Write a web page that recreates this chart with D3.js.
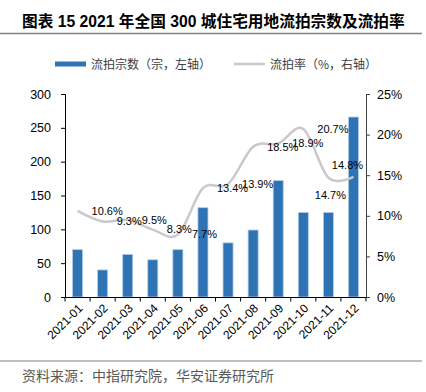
<!DOCTYPE html>
<html>
<head>
<meta charset="utf-8">
<script src="https://cdn.jsdelivr.net/npm/d3@7"></script>
<style>
  body { margin: 0; background: #fff; }
  svg { display: block; }
</style>
</head>
<body>
<svg id="chart"></svg>
<script>
// data
var months = ["2021-01", "2021-02", "2021-03", "2021-04", "2021-05", "2021-06",
              "2021-07", "2021-08", "2021-09", "2021-10", "2021-11", "2021-12"];
var counts = [70, 40, 63, 55, 70, 132, 80, 99, 172, 125, 125, 266];
var rates = [10.6, 9.3, 9.5, 8.3, 7.7, 13.4, 13.9, 18.5, 18.9, 20.7, 14.7, 14.8];
var leftTicks = [0, 50, 100, 150, 200, 250, 300];
var rightTicks = [0, 5, 10, 15, 20, 25];

var W = 426, H = 392;
// plot box (window.top is reserved, so prefixed names)
var pLeft = 65, pRight = 366, pTop = 94, pBottom = 297;
var numFont = "'Liberation Sans', Arial, sans-serif";
var cjkFont = "'Noto Sans CJK SC', sans-serif";

var svg = d3.select("#chart").attr("width", W).attr("height", H);

// title
svg.append("text")
  .attr("x", 22).attr("y", 27)
  .attr("font-family", numFont + ", " + cjkFont)
  .attr("font-weight", "bold")
  .attr("font-size", 15.7)
  .attr("fill", "#000")
  .text("图表 15 2021 年全国 300 城住宅用地流拍宗数及流拍率");

svg.append("line")
  .attr("x1", 0).attr("x2", 422).attr("y1", 33.5).attr("y2", 33.5)
  .attr("stroke", "#7f7f7f").attr("stroke-width", 1.5);

// legend
svg.append("rect")
  .attr("x", 55).attr("y", 61.5).attr("width", 31).attr("height", 5)
  .attr("fill", "#2e74b5");
svg.append("text")
  .attr("x", 91).attr("y", 64.5).attr("dy", "0.35em")
  .attr("font-family", cjkFont).attr("font-size", 12).attr("fill", "#404040")
  .text("流拍宗数（宗，左轴）");
svg.append("line")
  .attr("x1", 234).attr("x2", 265).attr("y1", 64).attr("y2", 64)
  .attr("stroke", "#c9c9c9").attr("stroke-width", 2.5);
svg.append("text")
  .attr("x", 270).attr("y", 64.5).attr("dy", "0.35em")
  .attr("font-family", cjkFont).attr("font-size", 12).attr("fill", "#404040")
  .text("流拍率（%，右轴）");

// scales
var x = d3.scaleBand().domain(months).range([pLeft, pRight])
  .paddingInner(0.6).paddingOuter(0.3);
var yL = d3.scaleLinear().domain([0, 300]).range([pBottom, pTop]);
var yR = d3.scaleLinear().domain([0, 25]).range([pBottom, pTop]);
var cx = function (m) { return x(m) + x.bandwidth() / 2; };

// bars
svg.append("g").selectAll("rect")
  .data(counts)
  .enter().append("rect")
  .attr("x", function (d, i) { return x(months[i]); })
  .attr("y", function (d) { return yL(d); })
  .attr("width", x.bandwidth())
  .attr("height", function (d) { return yL(0) - yL(d); })
  .attr("fill", "#2e74b5")
  .attr("stroke", "#b4cde8")
  .attr("stroke-width", 0.8);

// rate line
var line = d3.line()
  .x(function (d, i) { return cx(months[i]); })
  .y(function (d) { return yR(d); })
  .curve(d3.curveCardinal.tension(0));

svg.append("path")
  .datum(rates)
  .attr("d", line)
  .attr("fill", "none")
  .attr("stroke", "#c9c9c9")
  .attr("stroke-width", 2.5);

// rate labels
svg.append("g").selectAll("text")
  .data(rates)
  .enter().append("text")
  .attr("x", function (d, i) {
    if (i == 10) return cx(months[i]) + 2;
    if (i == 11) return cx(months[i]) - 6;
    return cx(months[i]) + 14;
  })
  .attr("y", function (d, i) {
    if (i == 10) return yR(d) + 18;
    if (i == 11) return yR(d) - 12;
    return yR(d);
  })
  .attr("dy", "0.35em")
  .attr("text-anchor", function (d, i) { return i >= 10 ? "middle" : "start"; })
  .attr("font-family", numFont).attr("font-size", 11).attr("fill", "#000")
  .text(function (d) { return d.toFixed(1) + "%"; });

// left axis
var gL = svg.append("g").attr("transform", "translate(" + pLeft + ",0)")
  .call(d3.axisLeft(yL).tickValues(leftTicks).tickSizeOuter(0).tickSize(4).tickPadding(10));
gL.selectAll("text").attr("font-family", numFont).attr("font-size", 12.5).attr("fill", "#000");
gL.selectAll("line, path").attr("stroke", "#000");

// right axis
var gR = svg.append("g").attr("transform", "translate(" + pRight + ",0)")
  .call(d3.axisRight(yR).tickValues(rightTicks).tickSizeOuter(0).tickSize(4).tickPadding(7)
    .tickFormat(function (d) { return d + "%"; }));
gR.selectAll("text").attr("font-family", numFont).attr("font-size", 12.5).attr("fill", "#000");
gR.selectAll("line, path").attr("stroke", "#404040");

// bottom axis with ticks at band boundaries
var gB = svg.append("g");
gB.append("line")
  .attr("x1", pLeft).attr("x2", pRight).attr("y1", pBottom + 0.5).attr("y2", pBottom + 0.5)
  .attr("stroke", "#000");
var bounds = months.map(function (m) { return cx(m) - x.step() / 2; });
bounds.push(cx(months[months.length - 1]) + x.step() / 2);
gB.selectAll("line.tick")
  .data(bounds)
  .enter().append("line")
  .attr("class", "tick")
  .attr("x1", function (d) { return d; }).attr("x2", function (d) { return d; })
  .attr("y1", pBottom).attr("y2", pBottom + 4.5)
  .attr("stroke", "#000");
gB.selectAll("text")
  .data(months)
  .enter().append("text")
  .attr("transform", function (d) { return "translate(" + (cx(d) + 3) + "," + (pBottom + 9) + ") rotate(-45)"; })
  .attr("dy", "0.35em")
  .attr("text-anchor", "end")
  .attr("font-family", numFont).attr("font-size", 12).attr("fill", "#000")
  .text(function (d) { return d; });

// footer
svg.append("line")
  .attr("x1", 0).attr("x2", 422).attr("y1", 361).attr("y2", 361)
  .attr("stroke", "#7f7f7f").attr("stroke-width", 1);
svg.append("text")
  .attr("x", 22).attr("y", 376).attr("dy", "0.35em")
  .attr("font-family", cjkFont).attr("font-size", 14).attr("fill", "#595959")
  .text("资料来源：中指研究院，华安证券研究所");
</script>
</body>
</html>
